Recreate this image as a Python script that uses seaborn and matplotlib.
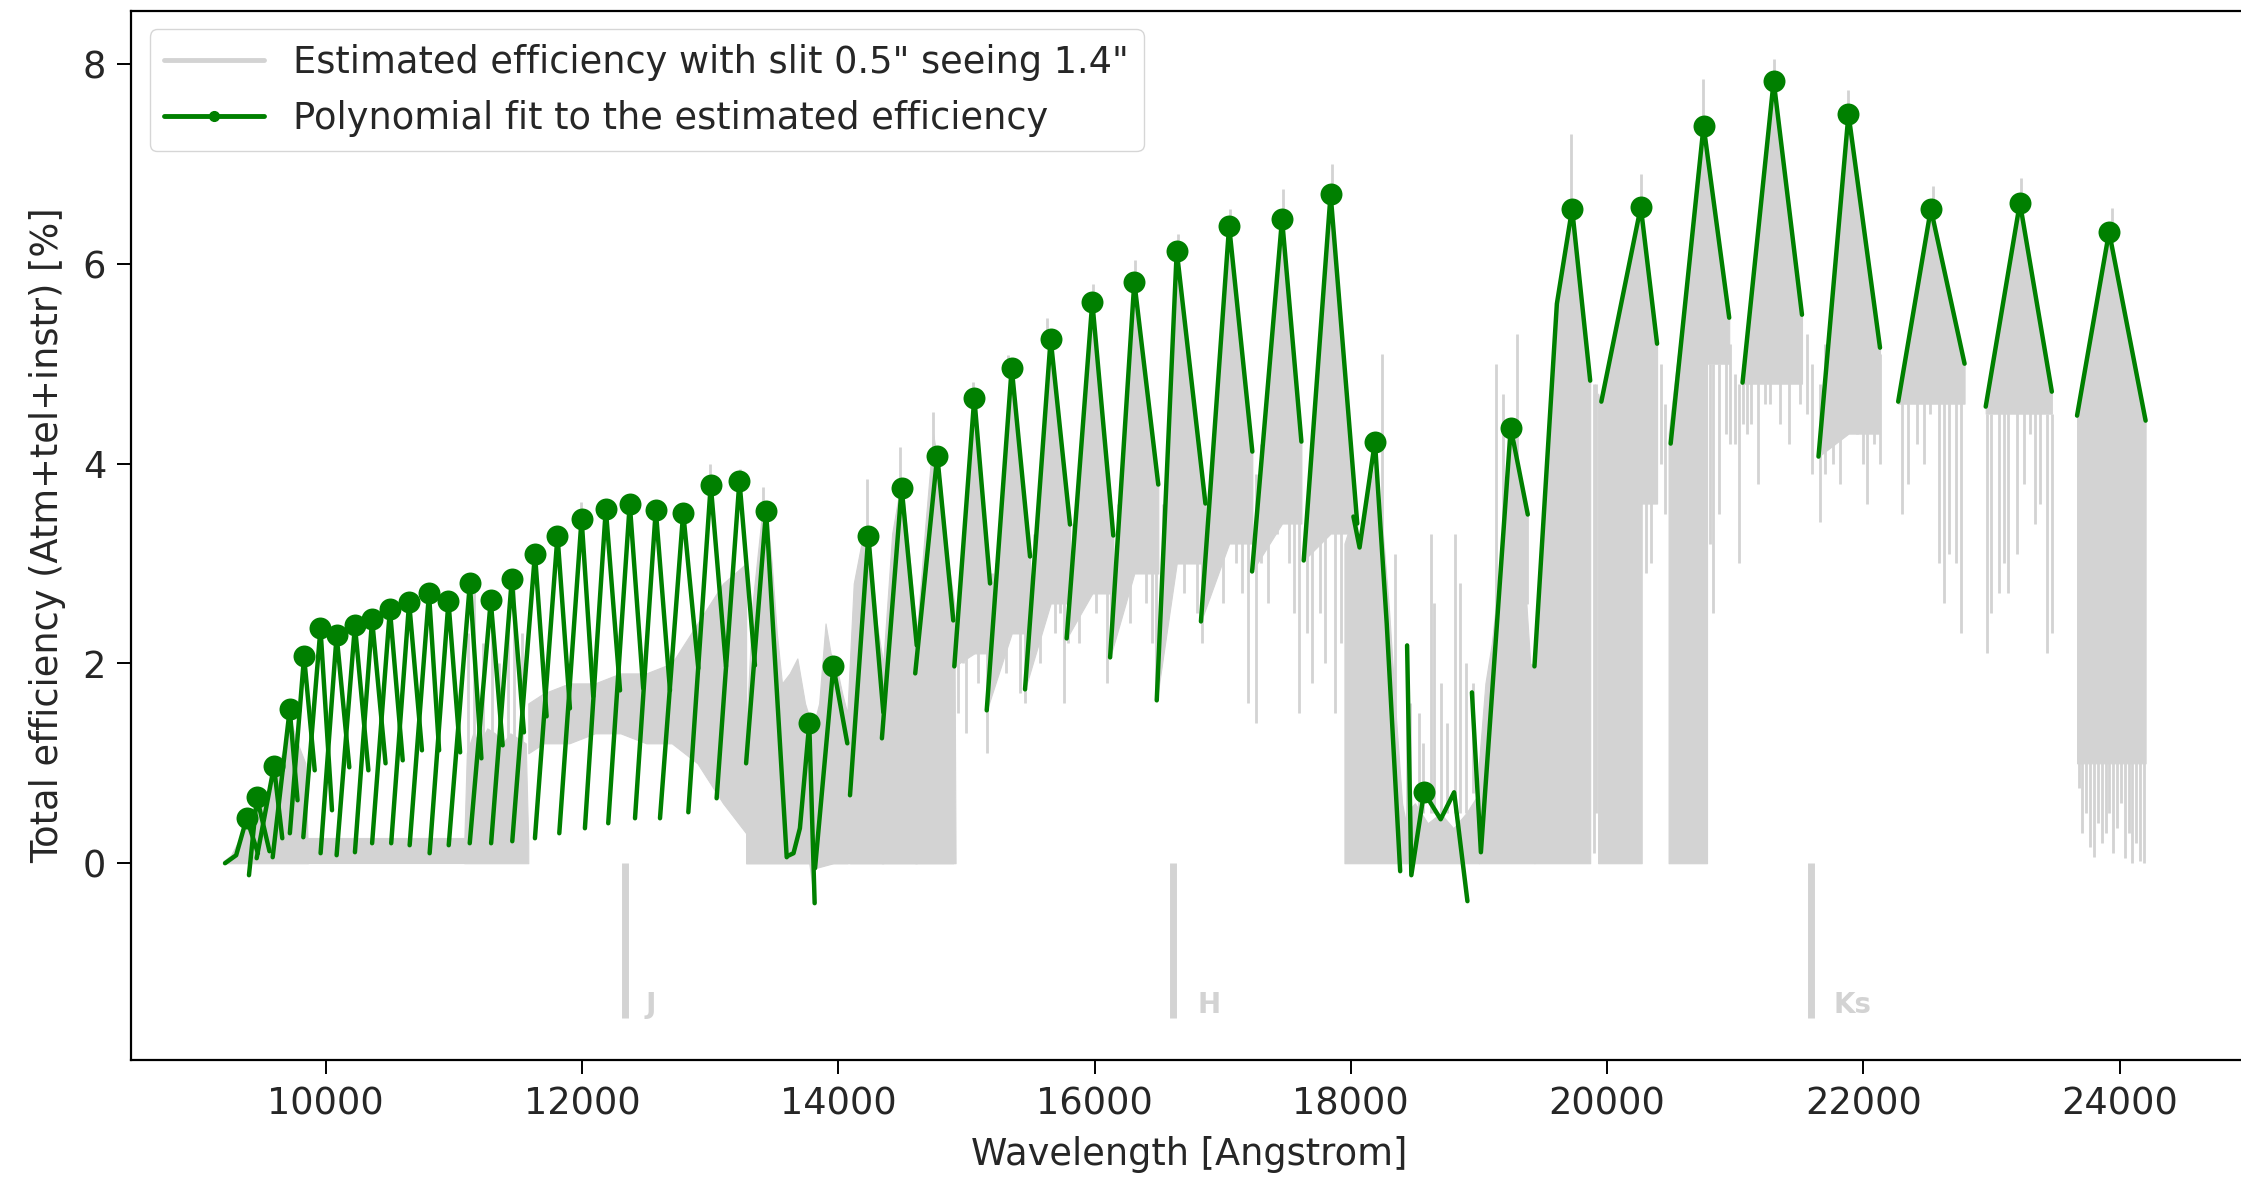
import numpy as np
import pandas as pd
import matplotlib
matplotlib.use("Agg")
import matplotlib.pyplot as plt
from matplotlib.lines import Line2D
import seaborn as sns

# ---------------- data ----------------
# Polynomial fit of each echelle order: left end, peak, right end
left_wave = [9213, 9400, 9460, 9585, 9719, 9824, 9959, 10084, 10227, 10361, 10510, 10654, 10810,
             10959, 11123, 11290, 11455, 11632, 11822, 12022, 12204, 12413, 12608, 12829, 13050,
             13280, 13600, 13818, 14091, 14340, 14600, 14905, 15158, 15457, 15782, 16121, 16485,
             16830, 17229, 17632, 18020, 18439, 18945, 19433, 19955, 20496, 21057, 21650, 22272,
             22955, 23668]
left_eff = [0.00, -0.12, 0.05, 0.06, 0.30, 0.26, 0.10, 0.08, 0.11, 0.20, 0.20, 0.18, 0.10,
            0.18, 0.20, 0.20, 0.22, 0.25, 0.30, 0.35, 0.40, 0.45, 0.45, 0.51, 0.65,
            1.00, 0.07, -0.05, 0.68, 1.25, 1.90, 1.97, 1.53, 1.74, 2.25, 2.06, 1.63,
            2.42, 2.92, 3.03, 3.47, 2.18, 1.71, 1.97, 4.62, 4.20, 4.81, 4.07, 4.62,
            4.57, 4.48]
peak_wave = [9382, 9462, 9595, 9718, 9830, 9958, 10084, 10227, 10361, 10500, 10650, 10805, 10957,
             11124, 11287, 11451, 11632, 11808, 11996, 12185, 12372, 12575, 12789, 13004, 13228,
             13436, 13773, 13961, 14234, 14494, 14772, 15061, 15353, 15657, 15982, 16310, 16641,
             17050, 17463, 17842, 18188, 18571, 19248, 19727, 20263, 20753, 21300, 21884, 22527,
             23222, 23918]
peak_eff = [0.45, 0.66, 0.97, 1.54, 2.07, 2.35, 2.28, 2.38, 2.44, 2.54, 2.61, 2.70, 2.62,
            2.80, 2.63, 2.84, 3.10, 3.28, 3.45, 3.55, 3.60, 3.54, 3.51, 3.79, 3.83,
            3.53, 1.40, 1.97, 3.28, 3.76, 4.08, 4.66, 4.96, 5.25, 5.62, 5.82, 6.13,
            6.38, 6.45, 6.70, 4.22, 0.71, 4.36, 6.55, 6.57, 7.38, 7.83, 7.50, 6.55,
            6.61, 6.32]
right_wave = [9470, 9560, 9660, 9779, 9913, 10048, 10183, 10332, 10466, 10600, 10750, 10884, 11048,
              11214, 11380, 11546, 11723, 11905, 12087, 12296, 12477, 12686, 12907, 13123, 13349,
              13597, 13815, 14070, 14351, 14612, 14897, 15184, 15496, 15808, 16146, 16497, 16865,
              17231, 17614, 18050, 18385, 18910, 19381, 19868, 20390, 20953, 21521, 22130, 22790,
              23471, 24203]
right_eff = [0.10, 0.12, 0.25, 0.63, 0.93, 0.53, 0.96, 0.93, 1.00, 1.03, 1.13, 1.13, 1.11,
             1.05, 1.18, 1.31, 1.47, 1.55, 1.67, 1.73, 1.75, 1.73, 1.95, 1.97, 1.98,
             0.06, -0.40, 1.20, 1.51, 2.18, 2.43, 2.80, 3.07, 3.39, 3.28, 3.79, 3.60,
             4.12, 4.22, 3.40, -0.08, -0.38, 3.49, 4.83, 5.20, 5.46, 5.49, 5.16, 5.00,
             4.72, 4.43]
# extra points of orders with a bent fit (order number counted from 1)
extra_order = [1, 27, 27, 27, 41, 41, 42, 42, 42, 43, 44]
extra_wave = [9300, 13650, 13700, 13735, 18068, 18280, 18472, 18701, 18806, 19015, 19608]
extra_eff = [0.08, 0.10, 0.35, 0.85, 3.16, 2.40, -0.12, 0.44, 0.71, 0.11, 5.60]

# solid part of the estimated efficiency under each order (floor level, nan = none)
gray_floor = ([np.nan] * 25 + [0.0, 0.0, 0.0, 0.0, 0.0, 0.0]
              + [2.1, 2.3, 2.6, 2.7, 2.9, 3.0, 3.2, 3.4, 3.3, np.nan, np.nan,
                 2.6, 0.0, 3.6, 5.0, 4.8, 4.3, 4.6, 4.5, 1.0])

# dense parts of the estimated efficiency (telluric bands): segment id, wavelength, low, high
band_id = ([1] * 13 + [2] * 2 + [3] * 11 + [10] * 10 + [4] * 32 + [5] * 10 + [6] * 7
           + [7] * 10 + [8] * 7 + [9] * 5)
band_wave = ([9200, 9260, 9330, 9380, 9420, 9470, 9540, 9600, 9660, 9720, 9780, 9840, 9860]
             + [9860, 11080]
             + [11080, 11100, 11150, 11200, 11260, 11320, 11380, 11440, 11500, 11560, 11580]
             + [11580, 11700, 11900, 12100, 12300, 12500, 12700, 12900, 13100, 13280]
             + [13280, 13330, 13400, 13440, 13480, 13520, 13560, 13620, 13680, 13740, 13800,
                13850, 13900, 13940, 13980, 14030, 14070, 14120, 14180, 14234, 14300, 14350,
                14420, 14494, 14560, 14612, 14680, 14740, 14800, 14860, 14905, 14915]
             + [17950, 18000, 18060, 18120, 18188, 18250, 18300, 18350, 18400, 18430]
             + [18430, 18500, 18600, 18700, 18800, 18900, 19000]
             + [19000, 19050, 19100, 19150, 19200, 19250, 19300, 19350, 19400, 19433]
             + [19930, 20010, 20100, 20200, 20256, 20263, 20270]
             + [20480, 20600, 20700, 20753, 20780])
band_low = ([0.0] * 26
            + [1.1, 1.2, 1.2, 1.3, 1.3, 1.2, 1.2, 1.0, 0.6, 0.3]
            + [0.0] * 71)
band_high = ([0.02, 0.08, 0.25, 0.42, 0.40, 0.60, 0.70, 0.90, 1.10, 1.45, 1.20, 1.00, 0.10]
             + [0.25, 0.25]
             + [0.20, 1.10, 1.30, 1.20, 1.35, 1.30, 1.20, 1.30, 1.25, 1.20, 0.20]
             + [1.6, 1.7, 1.8, 1.8, 1.9, 1.9, 2.0, 2.4, 2.8, 3.0]
             + [1.30, 2.60, 3.45, 3.55, 3.00, 2.30, 1.80, 1.90, 2.05, 1.60, 1.35,
                1.60, 2.40, 2.10, 2.00, 1.70, 1.50, 2.80, 3.20, 3.35, 2.40, 2.00,
                3.30, 3.85, 3.00, 2.30, 3.40, 4.30, 3.80, 3.00, 2.60, 0.00]
             + [3.20, 3.40, 3.20, 3.60, 4.00, 3.30, 2.50, 1.50, 0.60, 0.40]
             + [0.50, 0.60, 0.40, 0.50, 0.35, 0.50, 0.70]
             + [1.00, 1.80, 2.20, 2.80, 3.30, 3.60, 3.40, 3.00, 2.00, 1.97]
             + [4.70, 4.30, 5.30, 6.20, 6.50, 6.60, 3.60]
             + [4.30, 5.60, 6.90, 7.40, 7.20])

# single absorption lines of the estimated efficiency: wavelength, bottom, top
spike_wave = [11110, 11160, 11230, 11300, 11350, 11420, 11470, 11530,
              11990, 13000, 13230, 13414,
              14221, 14481, 14741, 15053, 15327, 15631, 15990, 16316, 16650, 17060, 17470, 17850,
              14930, 14970, 15000, 15040, 15090, 15130, 15160, 15200,
              15230, 15270, 15310, 15380, 15420, 15457, 15480,
              15530, 15570, 15620, 15690, 15730, 15760, 15790,
              15830, 15880, 15930, 16010, 16060, 16100, 16130,
              16180, 16230, 16280, 16350, 16400, 16450, 16480,
              16530, 16580, 16700, 16750, 16800, 16840,
              16900, 16960, 17000, 17100, 17150, 17200,
              17260, 17300, 17350, 17420, 17520, 17560, 17595,
              17660, 17700, 17760, 17800, 17880, 17920,
              18240, 18344, 18440, 18460, 18535, 18560, 18625, 18650, 18700, 18750, 18816,
              18850, 18900, 18950, 19130, 19185, 19300,
              19720, 20263, 20750, 21300, 21880, 22540, 23230, 23940,
              19900, 19915, 20300, 20340, 20420, 20450,
              20800, 20830, 20870, 20926, 20960, 21000, 21030,
              21060, 21090, 21120, 21180, 21230, 21272, 21350, 21420, 21504, 21560, 21600,
              21659, 21700, 21760, 21819, 21950, 22000, 22031, 22080, 22130,
              22299, 22350, 22420, 22470, 22520, 22591, 22630, 22670, 22720, 22760,
              22964, 23000, 23057, 23100, 23130, 23200, 23250, 23300, 23340, 23380, 23430, 23470,
              23680, 23710, 23740, 23770, 23800, 23830, 23860, 23890, 23920, 23950, 23980, 24010,
              24040, 24070, 24100, 24130, 24160, 24190]
spike_low = [1.0, 1.0, 1.0, 1.0, 1.0, 1.0, 1.0, 1.0,
             3.30, 3.70, 3.70, 3.40,
             3.20, 3.70, 4.00, 4.60, 4.90, 5.20, 5.60, 5.80, 6.10, 6.35, 6.40, 6.65,
             1.5, 2.0, 1.3, 2.2, 1.8, 2.4, 1.1, 1.9,
             2.1, 2.5, 1.9, 2.4, 1.7, 1.6, 2.6,
             2.4, 2.0, 2.7, 2.3, 2.5, 1.6, 2.2,
             2.6, 2.2, 2.8, 2.5, 2.9, 1.8, 2.4,
             2.5, 2.9, 2.4, 3.0, 2.6, 2.2, 1.7,
             2.6, 2.9, 2.7, 3.1, 2.5, 2.2,
             2.8, 3.2, 2.6, 3.0, 2.7, 1.6,
             1.4, 3.0, 2.6, 3.3, 3.0, 2.5, 1.5,
             2.3, 1.8, 2.5, 2.0, 1.5, 2.2,
             3.0, 0.5, 0.5, 0.5, 0.5, 0.5, 0.5, 0.5, 0.5, 0.5, 0.5,
             0.5, 0.5, 0.7, 2.0, 2.0, 3.0,
             6.50, 6.50, 7.30, 7.80, 7.40, 6.50, 6.60, 6.30,
             0.1, 0.5, 2.9, 3.0, 4.0, 3.5,
             3.2, 2.5, 3.5, 4.3, 4.2, 4.2, 3.0,
             4.4, 4.3, 4.4, 3.8, 4.6, 4.6, 4.4, 4.2, 4.6, 4.5, 3.9,
             3.42, 3.9, 4.0, 3.8, 4.3, 4.0, 3.6, 4.2, 4.0,
             3.5, 3.8, 4.2, 4.0, 4.5, 3.0, 2.6, 3.1, 3.0, 2.3,
             2.1, 2.5, 2.7, 3.0, 2.7, 3.1, 3.8, 4.3, 3.4, 3.6, 2.1, 2.3,
             0.75, 0.30, 0.50, 0.16, 0.06, 0.40, 0.20, 0.30, 0.50, 0.10, 0.35, 0.60,
             0.05, 0.30, 0.00, 0.20, 0.02, 0.00]
spike_high = [2.30, 2.75, 2.20, 2.60, 2.00, 2.50, 2.85, 2.30,
              3.62, 4.00, 3.95, 3.77,
              3.85, 4.17, 4.52, 4.82, 5.09, 5.46, 5.80, 6.04, 6.30, 6.55, 6.75, 7.00,
              2.6, 3.0, 3.2, 3.5, 3.5, 3.3, 2.9, 2.9,
              3.0, 3.5, 3.6, 3.6, 3.4, 3.1, 3.1,
              3.3, 3.6, 3.7, 3.7, 3.5, 3.4, 3.4,
              3.4, 3.6, 3.8, 3.8, 3.6, 3.4, 3.3,
              3.6, 3.8, 3.9, 3.9, 3.8, 3.8, 3.8,
              3.6, 3.8, 3.9, 3.9, 3.7, 3.6,
              3.9, 4.0, 4.0, 4.1, 4.1, 4.0,
              3.9, 4.2, 4.0, 4.3, 4.2, 4.1, 4.1,
              3.4, 3.5, 3.6, 3.6, 3.5, 3.5,
              5.10, 3.10, 2.20, 1.60, 1.50, 1.20, 3.30, 2.60, 1.80, 1.40, 3.30,
              2.80, 2.00, 1.80, 5.00, 4.70, 5.30,
              7.30, 6.90, 7.85, 8.05, 7.74, 6.78, 6.86, 6.56,
              4.8, 4.8, 5.6, 5.5, 5.0, 4.6,
              5.0, 5.0, 5.0, 5.5, 5.2, 4.9, 4.8,
              5.0, 5.0, 5.2, 5.2, 5.4, 5.4, 5.3, 5.3, 5.5, 5.3, 5.0,
              4.8, 5.2, 5.0, 5.2, 5.3, 5.2, 5.2, 5.2, 5.1,
              4.7, 4.8, 4.9, 4.9, 5.0, 4.7, 4.7, 4.7, 4.7, 4.7,
              4.5, 4.5, 4.6, 4.6, 4.6, 4.6, 4.6, 4.9, 4.6, 4.6, 4.5, 4.5,
              1.1, 1.1, 1.1, 1.1, 1.1, 1.1, 1.1, 1.1, 1.1, 1.1, 1.1, 1.1,
              1.1, 1.1, 1.1, 1.1, 1.1, 1.1]

# photometric band markers
band_names = ["J", "H", "Ks"]
band_center = [12332, 16615, 21591]
band_text_wave = [12497, 16805, 21768]

# ---------------- build tables ----------------
rows = []
for i in range(len(peak_wave)):
    pts = [(left_wave[i], left_eff[i]), (peak_wave[i], peak_eff[i]), (right_wave[i], right_eff[i])]
    for o, w, e in zip(extra_order, extra_wave, extra_eff):
        if o == i + 1:
            pts.append((w, e))
    pts.sort()
    for w, e in pts:
        rows.append({"order": i + 1, "wave": w, "eff": e})
fit_df = pd.DataFrame(rows)
peak_df = pd.DataFrame({"wave": peak_wave, "eff": peak_eff})
band_df = pd.DataFrame({"seg": band_id, "wave": band_wave, "low": band_low, "high": band_high})

# ---------------- figure ----------------
sns.set_style("ticks")
plt.rcParams["font.family"] = ["DejaVu Sans"]
FS = 26.5
plt.rcParams["font.size"] = FS

GRAY = "#d3d3d3"
fig = plt.figure(figsize=(22.41, 11.84), dpi=100)
ax = fig.add_axes([0.0585, 0.1047, 0.9445, 0.886])

# estimated efficiency (gray)
for seg, g in band_df.groupby("seg"):
    ax.fill_between(g["wave"], g["low"], g["high"], color=GRAY, lw=0.8, zorder=1)
for i, fl in enumerate(gray_floor):
    if np.isnan(fl):
        continue
    g = fit_df[fit_df["order"] == i + 1]
    top = g["eff"].to_numpy()
    ax.fill_between(g["wave"], np.minimum(fl, top), top, color=GRAY, lw=0.8, zorder=1)
ax.vlines(spike_wave, spike_low, spike_high, color=GRAY, lw=2.0, zorder=1)

# band markers
ax.vlines(band_center, -1.55, 0.0, color=GRAY, lw=5, zorder=1)
for name, xw in zip(band_names, band_text_wave):
    ax.text(xw, -1.56, name, color=GRAY, fontsize=20, fontweight="bold",
            ha="left", va="bottom", zorder=1)

# polynomial fits
sns.lineplot(data=fit_df, x="wave", y="eff", units="order", estimator=None, sort=False,
             color="green", lw=3.2, ax=ax, zorder=3, legend=False)
sns.scatterplot(data=peak_df, x="wave", y="eff", color="green", s=250, linewidth=0,
                ax=ax, zorder=4, legend=False)

ax.set_xlim(8480, 25000)
ax.set_ylim(-1.97, 8.53)
ax.set_xticks([10000, 12000, 14000, 16000, 18000, 20000, 22000, 24000])
ax.set_yticks([0, 2, 4, 6, 8])
ax.set_xlabel("Wavelength [Angstrom]", fontsize=FS, labelpad=10)
ax.set_ylabel("Total efficiency (Atm+tel+instr) [%]", fontsize=FS, labelpad=12)
ax.tick_params(axis="both", labelsize=FS, length=10, width=1.4, color="black",
               direction="out", pad=8)
for sp in ax.spines.values():
    sp.set_color("black")
    sp.set_linewidth(1.6)

handles = [Line2D([], [], color=GRAY, lw=3.5),
           Line2D([], [], color="green", lw=3.5, marker="o", markersize=7)]
labels = ['Estimated efficiency with slit 0.5" seeing 1.4"',
          "Polynomial fit to the estimated efficiency"]
ax.legend(handles, labels, loc="upper left", fontsize=FS, handlelength=2.7,
          frameon=True, fancybox=True, edgecolor="#cccccc", framealpha=0.8)

fig.savefig("out.png", dpi=100)
